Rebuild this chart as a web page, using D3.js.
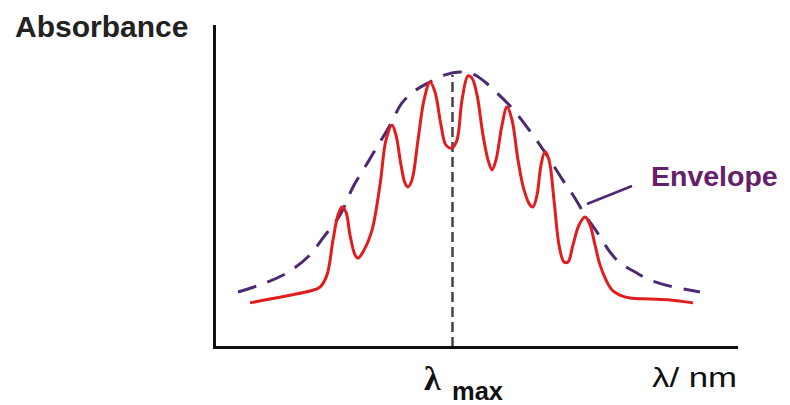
<!DOCTYPE html>
<html>
<head>
<meta charset="utf-8">
<script src="https://cdn.jsdelivr.net/npm/d3@7"></script>
<style>
  body { margin: 0; background: #fff; }
</style>
</head>
<body>
<div id="Chart"></div>
<script>
// spectrum (wavelength in nm-like units, absorbance 0..1)
var specX = [234, 254, 274, 294, 304, 311, 317, 322, 326, 330, 334, 339, 342, 348, 356, 364, 370, 376, 380, 385,
             389, 392, 396, 402, 408, 414, 419, 425, 430, 436, 441, 446, 452, 456, 461, 467, 472, 476, 480, 486,
             491, 496, 502, 508, 514, 517, 521, 525, 529, 533, 538, 543, 548, 552, 557, 563, 569, 574, 579, 584,
             590, 596, 604, 614, 634, 654, 677];
var specY = [0.137, 0.149, 0.161, 0.174, 0.186, 0.224, 0.332, 0.410, 0.435, 0.419, 0.348, 0.286, 0.276, 0.301, 0.363, 0.503, 0.643, 0.689, 0.658, 0.565,
             0.509, 0.497, 0.519, 0.643, 0.767, 0.823, 0.792, 0.689, 0.627, 0.618, 0.643, 0.767, 0.842, 0.835, 0.783, 0.658, 0.581, 0.550, 0.581, 0.689,
             0.745, 0.705, 0.581, 0.488, 0.441, 0.435, 0.472, 0.565, 0.606, 0.581, 0.457, 0.317, 0.264, 0.264, 0.317, 0.379, 0.404, 0.379, 0.317, 0.255,
             0.208, 0.177, 0.161, 0.152, 0.149, 0.146, 0.137];

var envX = [222, 244, 271, 294, 307, 324, 337, 349, 361, 374, 386, 400, 414, 429, 444, 457, 469, 481, 496, 511,
            524, 534, 546, 557, 569, 581, 594, 604, 619, 634, 654, 684];
var envY = [0.171, 0.193, 0.230, 0.286, 0.339, 0.410, 0.497, 0.559, 0.621, 0.689, 0.758, 0.798, 0.823, 0.845, 0.854, 0.848, 0.823, 0.789, 0.742, 0.683,
            0.627, 0.581, 0.522, 0.472, 0.410, 0.357, 0.295, 0.261, 0.233, 0.208, 0.189, 0.171];

var lambdaMax = 436, lambdaMaxTop = 0.845;
var leaderX = [571, 616], leaderY = [0.444, 0.500];

var width = 790, height = 405;

var svg = d3.select("#Chart")
            .append("svg")
            .attr("width", width)
            .attr("height", height);

var x = d3.scaleLinear().domain([200, 722]).range([216, 738]);
var y = d3.scaleLinear().domain([0, 1]).range([347, 25]);

var spec = specX.map((d, i) => ({x: d, y: specY[i]}));
var env = envX.map((d, i) => ({x: d, y: envY[i]}));

var line = d3.line()
             .x(d => x(d.x))
             .y(d => y(d.y))
             .curve(d3.curveCatmullRom.alpha(0.5));

// lambda max marker
svg.append("line")
   .attr("x1", x(lambdaMax) + 0.5).attr("x2", x(lambdaMax) + 0.5)
   .attr("y1", y(0)).attr("y2", y(lambdaMaxTop))
   .attr("stroke", "#444")
   .attr("stroke-width", 2.5)
   .attr("stroke-dasharray", "10,5");

svg.append("path")
   .datum(env)
   .attr("d", line)
   .attr("fill", "none")
   .attr("stroke", "#4b2a72")
   .attr("stroke-width", 3)
   .attr("stroke-dasharray", "19,12");

svg.append("line")
   .attr("x1", x(leaderX[0])).attr("y1", y(leaderY[0]))
   .attr("x2", x(leaderX[1])).attr("y2", y(leaderY[1]))
   .attr("stroke", "#4b2a72")
   .attr("stroke-width", 2.5);

svg.append("path")
   .datum(spec)
   .attr("d", line)
   .attr("fill", "none")
   .attr("stroke", "#e01e1e")
   .attr("stroke-width", 3)
   .attr("stroke-linejoin", "round");

// axes, drawn as plain lines (no ticks)
svg.append("line")
   .attr("x1", x(200) - 1.5).attr("x2", x(200) - 1.5)
   .attr("y1", y(1)).attr("y2", y(0) + 2)
   .attr("stroke", "#111").attr("stroke-width", 3);
svg.append("line")
   .attr("x1", x(200) - 3).attr("x2", x(722))
   .attr("y1", y(0) + 0.5).attr("y2", y(0) + 0.5)
   .attr("stroke", "#111").attr("stroke-width", 3);

svg.append("text")
   .attr("x", 15).attr("y", 37)
   .attr("font-family", "Liberation Sans, Arial, sans-serif")
   .attr("font-weight", "bold")
   .attr("font-size", 30)
   .attr("fill", "#222")
   .text("Absorbance");

svg.append("text")
   .attr("x", 651).attr("y", 186)
   .attr("font-family", "Liberation Sans, Arial, sans-serif")
   .attr("font-weight", "bold")
   .attr("font-size", 28.5)
   .attr("fill", "#64206a")
   .text("Envelope");

var lm = svg.append("text")
   .attr("x", 424).attr("y", 390)
   .attr("font-family", "Liberation Serif, Times New Roman, serif")
   .attr("font-weight", "bold")
   .attr("fill", "#111");
lm.append("tspan").attr("font-size", 34).text("λ");
lm.append("tspan")
  .attr("font-family", "Liberation Sans, Arial, sans-serif")
  .attr("font-size", 25).attr("x", 452).attr("y", 400)
  .attr("textLength", 51).attr("lengthAdjust", "spacingAndGlyphs")
  .text("max");

svg.append("text")
   .attr("x", 652).attr("y", 387)
   .attr("font-family", "Liberation Sans, Arial, sans-serif")
   .attr("font-size", 27)
   .attr("fill", "#111")
   .attr("textLength", 85).attr("lengthAdjust", "spacingAndGlyphs")
   .text("λ/ nm");
</script>
</body>
</html>
